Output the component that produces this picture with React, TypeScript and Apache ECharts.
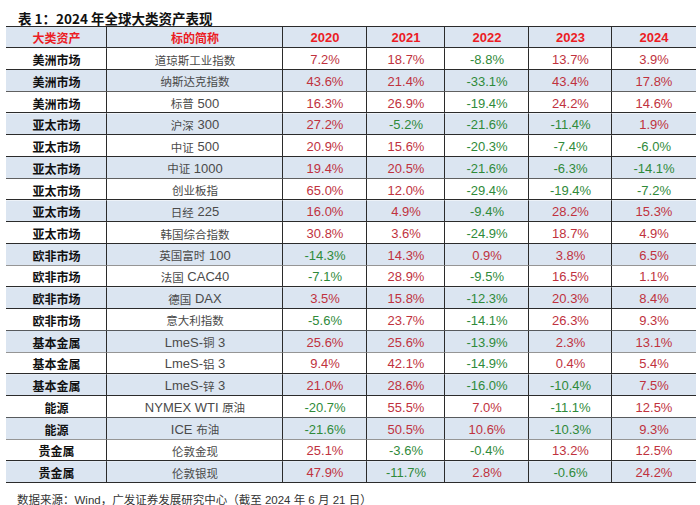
import React, { useEffect, useRef } from "react";
import * as echarts from "echarts";

const headers = ["大类资产", "标的简称", "2020", "2021", "2022", "2023", "2024"];
const assetClasses = [
  "美洲市场", "美洲市场", "美洲市场", "亚太市场", "亚太市场", "亚太市场", "亚太市场",
  "亚太市场", "亚太市场", "欧非市场", "欧非市场", "欧非市场", "欧非市场", "基本金属",
  "基本金属", "基本金属", "能源", "能源", "贵金属", "贵金属",
];
const indexNames = [
  "道琼斯工业指数", "纳斯达克指数", "标普 500", "沪深 300", "中证 500", "中证 1000",
  "创业板指", "日经 225", "韩国综合指数", "英国富时 100", "法国 CAC40", "德国 DAX",
  "意大利指数", "LmeS-铜 3", "LmeS-铝 3", "LmeS-锌 3", "NYMEX WTI 原油", "ICE 布油",
  "伦敦金现", "伦敦银现",
];
const r2020 = [7.2, 43.6, 16.3, 27.2, 20.9, 19.4, 65.0, 16.0, 30.8, -14.3, -7.1, 3.5, -5.6, 25.6, 9.4, 21.0, -20.7, -21.6, 25.1, 47.9];
const r2021 = [18.7, 21.4, 26.9, -5.2, 15.6, 20.5, 12.0, 4.9, 3.6, 14.3, 28.9, 15.8, 23.7, 25.6, 42.1, 28.6, 55.5, 50.5, -3.6, -11.7];
const r2022 = [-8.8, -33.1, -19.4, -21.6, -20.3, -21.6, -29.4, -9.4, -24.9, 0.9, -9.5, -12.3, -14.1, -13.9, -14.9, -16.0, 7.0, 10.6, -0.4, 2.8];
const r2023 = [13.7, 43.4, 24.2, -11.4, -7.4, -6.3, -19.4, 28.2, 18.7, 3.8, 16.5, 20.3, 26.3, 2.3, 0.4, -10.4, -11.1, -10.3, 13.2, -0.6];
const r2024 = [3.9, 17.8, 14.6, 1.9, -6.0, -14.1, -7.2, 15.3, 4.9, 6.5, 1.1, 8.4, 9.3, 13.1, 5.4, 7.5, 12.5, 9.3, 12.5, 24.2];

const titleText = "表 1：2024 年全球大类资产表现";
const sourceText = "数据来源：Wind，广发证券发展研究中心（截至 2024 年 6 月 21 日）";

// column edges in table units (layout)
const colEdges = [0, 101, 277, 361, 439, 523, 606, 690];

const RED = "#c0323e";
const GREEN = "#2f8a3a";
const HEAD_RED = "#ec1c24";
const BLUE = "#dbe5f1";
const LINE = "#2b2b2b";
const CJK = "'Noto Sans CJK SC', sans-serif";
const LATIN = "'Liberation Sans', Arial, 'Noto Sans CJK SC', sans-serif";

// split mixed text into rich-text runs: CJK at smaller size, Latin at Arial size
function toRich(s: string): string {
  const parts = s.match(/[\u3400-\u9fff]+|[^\u3400-\u9fff]+/g) || [];
  return parts
    .map((p) => (/[\u3400-\u9fff]/.test(p) ? `{c|${p}}` : `{l|${p}}`))
    .join("");
}

export default function App() {
  const ref = useRef<HTMLDivElement>(null);
  useEffect(() => {
    if (!ref.current) return;
    const chart = echarts.init(ref.current, null, { renderer: "svg" });
    const yearSeries = [r2020, r2021, r2022, r2023, r2024];
    const rowCats = ["header", ...indexNames];
    type Cell = { text: string; color: string; weight: string; size: number; family: string; rich?: boolean };
    const cells: Cell[] = [];
    const data: number[][] = [];
    headers.forEach((h, c) => {
      data.push([c, 0]);
      cells.push({
        text: h,
        color: HEAD_RED,
        weight: "bold",
        size: c < 2 ? 12 : 13,
        family: c < 2 ? CJK : LATIN,
      });
    });
    indexNames.forEach((name, i) => {
      const y = i + 1;
      data.push([0, y]);
      cells.push({ text: assetClasses[i], color: "#111", weight: "bold", size: 12, family: CJK });
      data.push([1, y]);
      cells.push({ text: toRich(name), color: "#4a4a4a", weight: "normal", size: 12, family: LATIN, rich: true });
      yearSeries.forEach((arr, k) => {
        const v = arr[i];
        data.push([k + 2, y]);
        cells.push({
          text: v.toFixed(1) + "%",
          color: v >= 0 ? RED : GREEN,
          weight: "normal",
          size: 13,
          family: LATIN,
        });
      });
    });

    chart.setOption({
      animation: false,
      title: [
        {
          text: titleText,
          left: 13,
          top: 6,
          textStyle: { fontFamily: CJK, fontSize: 13.5, fontWeight: "bold", color: "#111" },
        },
        {
          text: sourceText,
          left: 12,
          top: 489,
          textStyle: { fontFamily: LATIN, fontSize: 11.5, fontWeight: "normal", color: "#333" },
        },
      ],
      grid: { left: 6, right: 4, top: 26.5, bottom: 22, containLabel: false },
      xAxis: { type: "value", min: 0, max: 690, show: false },
      yAxis: { type: "category", data: rowCats, inverse: true, show: false },
      series: [
        {
          type: "custom",
          data,
          encode: { x: 0, y: 1 },
          renderItem: (params: any, api: any) => {
            const col = api.value(0) as number;
            const row = api.value(1) as number;
            const s = api.coord([colEdges[col], row]);
            const e = api.coord([colEdges[col + 1], row]);
            const h = api.size([0, 1])[1];
            const x0 = s[0];
            const x1 = e[0];
            const y0 = s[1] - h / 2;
            const y1 = s[1] + h / 2;
            const cell = cells[params.dataIndex];
            const children: any[] = [];
            children.push({
              type: "rect",
              shape: { x: x0, y: y0, width: x1 - x0, height: y1 - y0 },
              style: { fill: row % 2 === 0 ? BLUE : "#ffffff" },
            });
            const yb = Math.round(y1) - 0.5;
            children.push({
              type: "line",
              shape: { x1: x0, y1: yb, x2: x1, y2: yb },
              style: { stroke: LINE, lineWidth: 1 },
            });
            if (row === 0) {
              const yt = Math.round(y0) + 0.5;
              children.push({
                type: "line",
                shape: { x1: x0, y1: yt, x2: x1, y2: yt },
                style: { stroke: LINE, lineWidth: 1 },
              });
            }
            if (col < colEdges.length - 2) {
              const xr = Math.round(x1) - 0.5;
              children.push({
                type: "line",
                shape: { x1: xr, y1: y0, x2: xr, y2: y1 },
                style: { stroke: LINE, lineWidth: 1 },
              });
            }
            const textStyle: any = {
              text: cell.text,
              x: (x0 + x1) / 2,
              y: (y0 + y1) / 2 + 0.5,
              align: "center",
              verticalAlign: "middle",
              fill: cell.color,
              fontSize: cell.size,
              fontWeight: cell.weight,
              fontFamily: cell.family,
            };
            if (cell.rich) {
              textStyle.rich = {
                c: { fontSize: 11.5, fontFamily: CJK, fill: cell.color, color: cell.color },
                l: { fontSize: 13, fontFamily: LATIN, fill: cell.color, color: cell.color },
              };
            }
            children.push({ type: "text", style: textStyle });
            return { type: "group", children };
          },
        },
      ],
    });
    return () => chart.dispose();
  }, []);
  return (
    <div
      ref={ref}
      style={{ position: "fixed", left: 0, top: 0, width: 700, height: 505, background: "#fff" }}
    />
  );
}
